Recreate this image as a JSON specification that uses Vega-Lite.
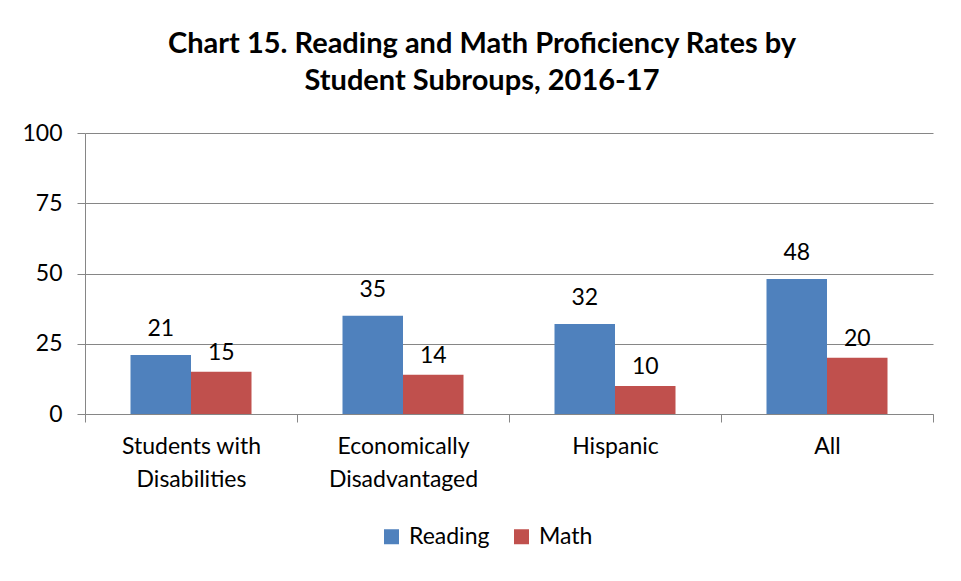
{
  "$schema": "https://vega.github.io/schema/vega-lite/v6.json",
  "width": 848,
  "height": 281,
  "autosize": {"type": "none"},
  "padding": {"left": 85, "top": 133, "right": 28, "bottom": 167},
  "background": "white",
  "title": {
    "text": ["Chart 15. Reading and Math Proficiency Rates by", "Student Subroups, 2016-17"],
    "font": "Lato",
    "fontSize": 29,
    "fontWeight": "bold",
    "color": "black",
    "lineHeight": 37,
    "anchor": "middle",
    "dx": -27,
    "offset": 26
  },
  "data": {
    "values": [
      {"group": "Students with Disabilities", "subject": "Reading", "value": 21},
      {"group": "Students with Disabilities", "subject": "Math", "value": 15},
      {"group": "Economically Disadvantaged", "subject": "Reading", "value": 35},
      {"group": "Economically Disadvantaged", "subject": "Math", "value": 14},
      {"group": "Hispanic", "subject": "Reading", "value": 32},
      {"group": "Hispanic", "subject": "Math", "value": 10},
      {"group": "All", "subject": "Reading", "value": 48},
      {"group": "All", "subject": "Math", "value": 20}
    ]
  },
  "encoding": {
    "x": {
      "field": "group",
      "type": "nominal",
      "sort": null,
      "scale": {"paddingInner": 0, "paddingOuter": 0},
      "axis": {
        "title": null,
        "labelAngle": 0,
        "tickBand": "extent",
        "tickSize": 8,
        "tickColor": "#868686",
        "domainColor": "#868686",
        "labelFont": "Lato",
        "labelFontSize": 23,
        "labelColor": "black",
        "labelPadding": 13,
        "labelLineHeight": 33,
        "labelExpr": "datum.value == 'Students with Disabilities' ? ['Students with', 'Disabilities'] : datum.value == 'Economically Disadvantaged' ? ['Economically', 'Disadvantaged'] : datum.value"
      }
    },
    "xOffset": {
      "field": "subject",
      "sort": ["Reading", "Math"],
      "scale": {"paddingInner": 0, "paddingOuter": 0.752}
    },
    "y": {
      "field": "value",
      "type": "quantitative",
      "scale": {"domain": [0, 100]},
      "axis": {
        "title": null,
        "values": [0, 25, 50, 75, 100],
        "grid": true,
        "gridColor": "#868686",
        "domainColor": "#868686",
        "tickColor": "#868686",
        "tickSize": 8,
        "labelFont": "Lato",
        "labelFontSize": 23,
        "labelColor": "black",
        "labelPadding": 15
      }
    }
  },
  "layer": [
    {
      "mark": {"type": "bar"},
      "encoding": {
        "color": {
          "field": "subject",
          "type": "nominal",
          "sort": ["Reading", "Math"],
          "scale": {"domain": ["Reading", "Math"], "range": ["#4F81BD", "#C0504D"]},
          "legend": {
            "title": null,
            "orient": "none",
            "direction": "horizontal",
            "legendX": 295,
            "legendY": 392,
            "symbolType": "square",
            "symbolSize": 225,
            "symbolStrokeWidth": 0,
            "labelFont": "Lato",
            "labelFontSize": 23,
            "labelColor": "black",
            "labelOffset": 6,
            "columnPadding": 20
          }
        }
      }
    },
    {
      "transform": [{"filter": "datum.subject == 'Reading'"}],
      "mark": {"type": "text", "baseline": "alphabetic", "dy": -19, "font": "Lato", "fontSize": 23, "color": "black"},
      "encoding": {"text": {"field": "value", "type": "quantitative"}}
    },
    {
      "transform": [{"filter": "datum.subject == 'Math'"}],
      "mark": {"type": "text", "baseline": "alphabetic", "dy": -12, "font": "Lato", "fontSize": 23, "color": "black"},
      "encoding": {"text": {"field": "value", "type": "quantitative"}}
    }
  ],
  "config": {
    "view": {"stroke": null}
  }
}
